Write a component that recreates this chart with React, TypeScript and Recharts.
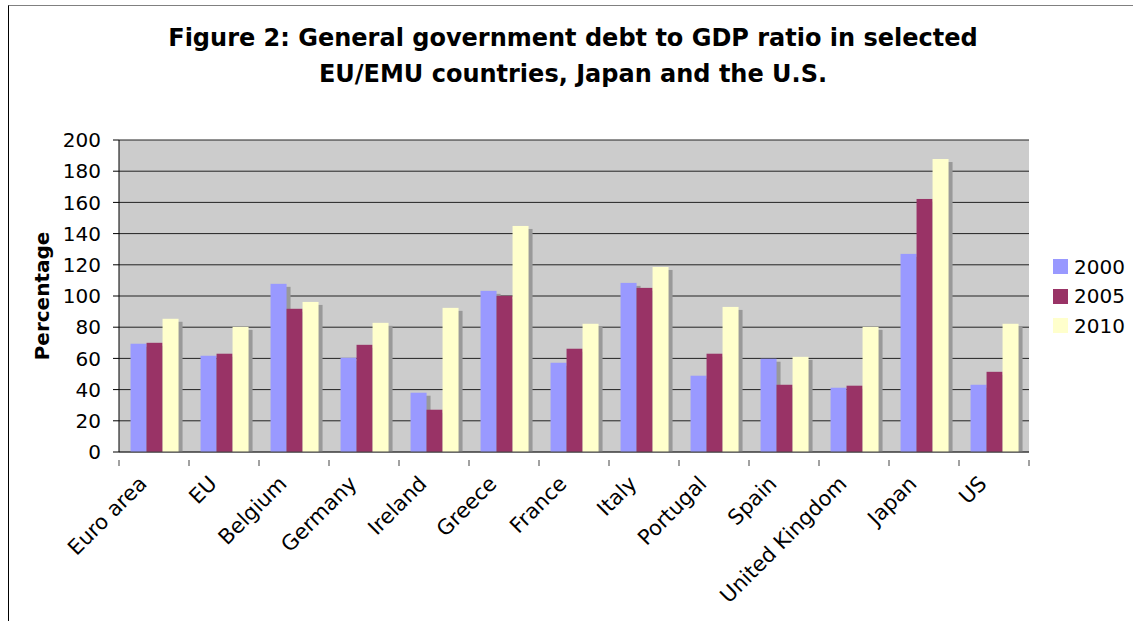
import React from 'react';
import { BarChart, Bar, XAxis, YAxis, CartesianGrid, Legend } from 'recharts';

const countries = [
    'Euro area',
    'EU',
    'Belgium',
    'Germany',
    'Ireland',
    'Greece',
    'France',
    'Italy',
    'Portugal',
    'Spain',
    'United Kingdom',
    'Japan',
    'US',
];
const debt2000 = [69.4, 61.7, 107.8, 60.4, 38.0, 103.3, 57.2, 108.4, 48.9, 59.8, 41.2, 127.0, 43.1];
const debt2005 = [70.0, 63.0, 91.8, 68.7, 27.1, 100.1, 66.2, 105.2, 63.0, 43.1, 42.5, 162.2, 51.4];
const debt2010 = [85.4, 80.2, 96.2, 82.8, 92.4, 144.9, 82.2, 118.6, 93.0, 61.0, 80.2, 187.8, 82.2];
const yTicks = [0, 20, 40, 60, 80, 100, 120, 140, 160, 180, 200];

const data = countries.map((name, i) => ({
    name,
    y2000: debt2000[i],
    y2005: debt2005[i],
    y2010: debt2010[i],
}));

const FONT = '"DejaVu Sans", Verdana, sans-serif';

// bar with the grey drop shadow Excel puts behind each column
const ShadowBar = (props: any) => {
    const { x, y, width, height, fill } = props;
    if (!height || height <= 0) return null;
    return (
        <g>
            <rect x={x + 4} y={y + 3} width={width} height={Math.max(height - 3, 0)} fill="#999999" />
            <rect x={x} y={y} width={width} height={height} fill={fill} />
        </g>
    );
};

const CountryTick = (props: any) => {
    const { x, y, payload, index } = props;
    const half = payload && payload.offset ? payload.offset : 35;
    const last = index === countries.length - 1;
    const tx = x - 6;
    const ty = y + 25;
    return (
        <g>
            <line x1={x - half} y1={y} x2={x - half} y2={y + 6} stroke="#444" />
            {last && <line x1={x + half} y1={y} x2={x + half} y2={y + 6} stroke="#444" />}
            <text
                x={tx}
                y={ty}
                textAnchor="end"
                transform={`rotate(-45, ${tx}, ${ty})`}
                fontFamily={FONT}
                fontSize={21}
                fill="#000"
            >
                {payload.value}
            </text>
        </g>
    );
};

const renderLegend = (props: any) => {
    const { payload } = props;
    return (
        <div style={{ fontFamily: FONT, fontSize: 20, color: '#000' }}>
            {payload.map((entry: any) => (
                <div key={entry.value} style={{ display: 'flex', alignItems: 'center', height: 29.5 }}>
                    <span style={{ width: 15, height: 15, background: entry.color, marginRight: 6 }} />
                    <span>{entry.value}</span>
                </div>
            ))}
        </div>
    );
};

export default function App() {
    return (
        <div
            style={{
                position: 'absolute',
                left: 8,
                top: 5,
                width: 1125,
                height: 616,
                borderTop: '1px solid #808080',
                borderLeft: '1px solid #000',
                boxSizing: 'border-box',
                background: '#fff',
            }}
        >
            <div
                style={{
                    position: 'absolute',
                    left: 0,
                    top: 14,
                    width: 1128,
                    textAlign: 'center',
                    fontFamily: FONT,
                    fontWeight: 'bold',
                    fontSize: 24,
                    lineHeight: '36px',
                    color: '#000',
                }}
            >
                Figure 2: General government debt to GDP ratio in selected
                <br />
                EU/EMU countries, Japan and the U.S.
            </div>
            <div
                style={{
                    position: 'absolute',
                    left: 33,
                    top: 290,
                    transform: 'translate(-50%, -50%) rotate(-90deg)',
                    fontFamily: FONT,
                    fontWeight: 'bold',
                    fontSize: 20,
                    whiteSpace: 'nowrap',
                    color: '#000',
                }}
            >
                Percentage
            </div>
            <div style={{ position: 'absolute', left: 0, top: 0 }}>
                <BarChart
                    width={1124}
                    height={615}
                    data={data}
                    margin={{ top: 134, right: 104, bottom: 19, left: 50 }}
                    barCategoryGap="16.5%"
                    barGap={0}
                >
                    <CartesianGrid vertical={false} stroke="#222" fill="#CCCCCC" fillOpacity={1} />
                    <XAxis
                        dataKey="name"
                        interval={0}
                        height={150}
                        axisLine={{ stroke: '#444' }}
                        tickLine={false}
                        tick={<CountryTick />}
                    />
                    <YAxis
                        domain={[0, 200]}
                        ticks={yTicks}
                        width={60}
                        axisLine={{ stroke: '#000' }}
                        tickLine={{ stroke: '#000' }}
                        tickSize={6}
                        tickMargin={12}
                        tick={{ fontFamily: FONT, fontSize: 20, fill: '#000' }}
                    />
                    <YAxis
                        yAxisId="frame"
                        orientation="right"
                        domain={[0, 200]}
                        width={0}
                        tick={false}
                        tickLine={false}
                        axisLine={{ stroke: '#808080' }}
                    />
                    <Legend
                        layout="vertical"
                        align="center"
                        verticalAlign="middle"
                        wrapperStyle={{ left: 1044, top: 246, width: 80 }}
                        content={renderLegend}
                    />
                    <Bar dataKey="y2000" name="2000" fill="#9999FF" shape={<ShadowBar />} isAnimationActive={false} />
                    <Bar dataKey="y2005" name="2005" fill="#993366" shape={<ShadowBar />} isAnimationActive={false} />
                    <Bar dataKey="y2010" name="2010" fill="#FFFFCC" shape={<ShadowBar />} isAnimationActive={false} />
                </BarChart>
            </div>
        </div>
    );
}
